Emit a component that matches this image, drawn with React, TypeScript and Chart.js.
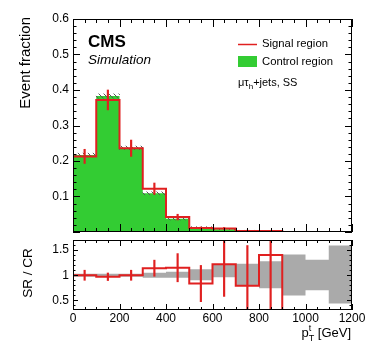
import React, { useEffect, useRef } from 'react';
import { Chart, registerables } from 'chart.js';

Chart.register(...registerables);

// ---------------- data ----------------
const binEdges = [0, 100, 200, 300, 400, 500, 600, 700, 800, 900, 1000, 1100, 1200];
const binCenters = [50, 150, 250, 350, 450, 550, 650, 750, 850, 950, 1050, 1150];

const controlRegion = [0.217, 0.383, 0.237, 0.109, 0.037, 0.013, 0.008, 0.0038, 0.002, 0.0012, 0.0008, 0.0005];
const controlRegionErr = [0.005, 0.006, 0.005, 0.004, 0.003, 0.002, 0.0015, 0.001, 0.001, 0.0005, 0.0005, 0.0005];
const signalRegion = [0.213, 0.372, 0.236, 0.122, 0.042, 0.011, 0.0098, 0.003, 0.0028, 0, 0, 0];
const signalRegionErr = [0.02, 0.028, 0.023, 0.016, 0.008, 0.003, 0.003, 0.002, 0.002, 0, 0, 0];

const ratioValues = [1.0, 0.97, 1.0, 1.14, 1.15, 0.835, 1.22, 0.79, 1.4, 0, 0, 0];
const ratioErr = [0.1, 0.075, 0.1, 0.16, 0.28, 0.36, 0.64, 0.8, 1.1, 0, 0, 0];
const crBandUp = [1.03, 1.03, 1.03, 1.05, 1.07, 1.12, 1.22, 1.23, 1.28, 1.41, 1.31, 1.59];
const crBandDown = [0.97, 0.97, 0.97, 0.95, 0.95, 0.9, 0.96, 0.79, 0.74, 0.6, 0.7, 0.44];

const xTicks = [0, 200, 400, 600, 800, 1000, 1200];
const topYTicks = [0.1, 0.2, 0.3, 0.4, 0.5, 0.6];
const ratioYTicks = [0.5, 1, 1.5];

const legendLabels = ['Signal region', 'Control region'];
const yTitleTop = 'Event fraction';
const yTitleRatio = 'SR / CR';

// ---------------- styles ----------------
const FONT = '"Liberation Sans", Arimo, Arial, sans-serif';
const GREEN = '#33cc33';
const RED = '#e02020';
const GREY = '#aaaaaa';
const X_MIN = 0;
const X_MAX = 1200;
const TOP_Y_MAX = 0.6;
const RATIO_MIN = 0.31;
const RATIO_MAX = 1.7;

function stepData(values: number[]) {
  return binEdges.map((x, i) => ({ x, y: values[Math.min(i, values.length - 1)] }));
}

function makeHatch(): any {
  const c = document.createElement('canvas');
  c.width = 5;
  c.height = 5;
  const g = c.getContext('2d');
  if (!g) return '#555';
  g.strokeStyle = '#555';
  g.lineWidth = 1;
  g.beginPath();
  g.moveTo(-1, -1);
  g.lineTo(6, 6);
  g.stroke();
  return g.createPattern(c, 'repeat') || '#555';
}

type AxCfg = {
  xMinor: number; xMajor: number; xMinorLen: number; xMajorLen: number;
  yMinor: number; yMajor: number; yMinorLen: number; yMajorLen: number;
};

function axesPlugin(id: string, cfg: AxCfg) {
  return {
    id,
    afterDatasetsDraw(chart: any) {
      const { ctx, chartArea: a, scales } = chart;
      const xs = scales.x;
      const ys = scales.y;
      const mult = (v: number, m: number) => Math.abs(v / m - Math.round(v / m)) < 1e-6;
      ctx.save();
      ctx.strokeStyle = '#000';
      ctx.lineWidth = 1;
      ctx.beginPath();
      for (let k = Math.ceil(xs.min / cfg.xMinor - 1e-9); k * cfg.xMinor <= xs.max + 1e-9; k++) {
        const v = k * cfg.xMinor;
        const px = Math.round(xs.getPixelForValue(v)) + 0.5;
        const len = mult(v, cfg.xMajor) ? cfg.xMajorLen : cfg.xMinorLen;
        ctx.moveTo(px, a.bottom);
        ctx.lineTo(px, a.bottom - len);
        ctx.moveTo(px, a.top);
        ctx.lineTo(px, a.top + len);
      }
      for (let k = Math.ceil(ys.min / cfg.yMinor - 1e-9); k * cfg.yMinor <= ys.max + 1e-9; k++) {
        const v = k * cfg.yMinor;
        const py = Math.round(ys.getPixelForValue(v)) + 0.5;
        const len = mult(v, cfg.yMajor) ? cfg.yMajorLen : cfg.yMinorLen;
        ctx.moveTo(a.left, py);
        ctx.lineTo(a.left + len, py);
        ctx.moveTo(a.right, py);
        ctx.lineTo(a.right - len, py);
      }
      ctx.stroke();
      ctx.strokeRect(a.left + 0.5, a.top + 0.5, a.right - a.left - 1, a.bottom - a.top - 1);
      ctx.restore();
    },
  };
}

const topTextPlugin = {
  id: 'topText',
  afterDraw(chart: any) {
    const ctx = chart.ctx;
    ctx.save();
    ctx.fillStyle = '#000';
    // y title
    ctx.save();
    ctx.translate(26, 17);
    ctx.rotate(-Math.PI / 2);
    ctx.font = `15px ${FONT}`;
    ctx.textAlign = 'right';
    ctx.textBaseline = 'middle';
    ctx.fillText(yTitleTop, 0, 0);
    ctx.restore();
    // CMS
    ctx.textAlign = 'left';
    ctx.textBaseline = 'alphabetic';
    ctx.font = `bold 17px ${FONT}`;
    ctx.fillText('CMS', 88, 47);
    ctx.font = `italic 13.5px ${FONT}`;
    ctx.fillText('Simulation', 88, 64);
    // legend
    ctx.strokeStyle = RED;
    ctx.lineWidth = 1.5;
    ctx.beginPath();
    ctx.moveTo(238, 44.5);
    ctx.lineTo(257, 44.5);
    ctx.stroke();
    ctx.fillStyle = GREEN;
    ctx.fillRect(238, 56, 19, 11);
    ctx.fillStyle = '#000';
    ctx.font = `11.3px ${FONT}`;
    ctx.textBaseline = 'middle';
    ctx.fillText(legendLabels[0], 262, 44);
    ctx.fillText(legendLabels[1], 262, 62);
    // channel label: mu tau_h + jets, SS
    let x = 238;
    const yb = 86;
    ctx.textBaseline = 'alphabetic';
    ctx.font = `11px ${FONT}`;
    ctx.fillText('\u03bc\u03c4', x, yb);
    x += ctx.measureText('\u03bc\u03c4').width;
    ctx.font = `8px ${FONT}`;
    ctx.fillText('h', x, yb + 2.5);
    x += ctx.measureText('h').width;
    ctx.font = `11px ${FONT}`;
    ctx.fillText('+jets, SS', x, yb);
    ctx.restore();
  },
};

const bottomTextPlugin = {
  id: 'bottomText',
  afterDraw(chart: any) {
    const ctx = chart.ctx;
    ctx.save();
    ctx.fillStyle = '#000';
    ctx.save();
    ctx.translate(28, 37);
    ctx.rotate(-Math.PI / 2);
    ctx.font = `13.5px ${FONT}`;
    ctx.textAlign = 'center';
    ctx.textBaseline = 'middle';
    ctx.fillText(yTitleRatio, 0, 0);
    ctx.restore();
    // x title p_T^t [GeV]
    ctx.textAlign = 'left';
    ctx.textBaseline = 'alphabetic';
    ctx.font = `13px ${FONT}`;
    const unit = ' [GeV]';
    const wUnit = ctx.measureText(unit).width;
    const wP = ctx.measureText('p').width;
    ctx.font = `9px ${FONT}`;
    const wS = Math.max(ctx.measureText('t').width, ctx.measureText('T').width);
    const base = 101;
    const x0 = 351 - wUnit - wS - wP;
    ctx.font = `13px ${FONT}`;
    ctx.fillText('p', x0, base);
    ctx.font = `9px ${FONT}`;
    ctx.fillText('t', x0 + wP, base - 6);
    ctx.fillText('T', x0 + wP, base + 4);
    ctx.font = `13px ${FONT}`;
    ctx.fillText(unit, x0 + wP + wS, base);
    ctx.restore();
  },
};

function zeroPad(s: any) {
  s.paddingTop = 0;
  s.paddingBottom = 0;
  s.paddingLeft = 0;
  s.paddingRight = 0;
}

const plainLabel = (v: any) => String(Math.round(Number(v) * 1000) / 1000);

export default function App() {
  const topRef = useRef<HTMLCanvasElement>(null);
  const botRef = useRef<HTMLCanvasElement>(null);

  useEffect(() => {
    const hatch = makeHatch();

    const top = new Chart(topRef.current as HTMLCanvasElement, {
      type: 'bar',
      data: {
        datasets: [
          {
            type: 'line',
            label: legendLabels[1],
            data: stepData(controlRegion),
            stepped: true,
            fill: 'origin',
            backgroundColor: GREEN,
            borderColor: 'transparent',
            borderWidth: 0,
            pointRadius: 0,
            order: 4,
          } as any,
          {
            type: 'bar',
            label: 'CR uncertainty',
            data: binCenters.map((x, i) => ({ x, y: [controlRegion[i] - controlRegionErr[i], controlRegion[i] + controlRegionErr[i]] })),
            backgroundColor: hatch,
            borderWidth: 0,
            grouped: false,
            barPercentage: 1,
            categoryPercentage: 1,
            order: 3,
          } as any,
          {
            type: 'line',
            label: legendLabels[0],
            data: stepData(signalRegion),
            stepped: true,
            fill: false,
            borderColor: RED,
            borderWidth: 2,
            pointRadius: 0,
            order: 2,
          } as any,
          {
            type: 'bar',
            label: 'SR stat',
            data: binCenters
              .map((x, i) => ({ x, y: [signalRegion[i] - signalRegionErr[i], signalRegion[i] + signalRegionErr[i]], e: signalRegionErr[i] }))
              .filter((d) => d.e > 0),
            backgroundColor: RED,
            borderWidth: 0,
            barThickness: 1.5,
            grouped: false,
            order: 1,
          } as any,
        ],
      },
      options: {
        animation: false,
        responsive: false,
        maintainAspectRatio: false,
        layout: { padding: { left: 0, right: 22, top: 19, bottom: 4 } },
        plugins: { legend: { display: false }, tooltip: { enabled: false } },
        scales: {
          x: { type: 'linear', min: X_MIN, max: X_MAX, offset: false, display: false },
          y: {
            type: 'linear',
            min: 0,
            max: TOP_Y_MAX,
            grid: { display: false, drawTicks: false },
            border: { display: false },
            ticks: { color: '#000', font: { family: FONT, size: 12 }, padding: 4, callback: plainLabel },
            afterBuildTicks: (s: any) => {
              s.ticks = topYTicks.map((v) => ({ value: v }));
            },
            afterFit: (s: any) => {
              s.width = 73;
              zeroPad(s);
            },
          },
        },
      } as any,
      plugins: [
        axesPlugin('topAxes', { xMinor: 50, xMajor: 200, xMinorLen: 4, xMajorLen: 8, yMinor: 0.02, yMajor: 0.1, yMinorLen: 3.5, yMajorLen: 7 }),
        topTextPlugin,
      ],
    });

    const bot = new Chart(botRef.current as HTMLCanvasElement, {
      type: 'bar',
      data: {
        datasets: [
          {
            type: 'line',
            label: 'CR band up',
            data: stepData(crBandUp),
            stepped: true,
            fill: '+1',
            backgroundColor: GREY,
            borderColor: 'transparent',
            borderWidth: 0,
            pointRadius: 0,
            order: 4,
          } as any,
          {
            type: 'line',
            label: 'CR band down',
            data: stepData(crBandDown),
            stepped: true,
            fill: false,
            borderColor: 'transparent',
            borderWidth: 0,
            pointRadius: 0,
            order: 5,
          } as any,
          {
            type: 'line',
            label: 'SR / CR',
            data: stepData(ratioValues.map((v) => Math.max(v, RATIO_MIN))),
            stepped: true,
            fill: false,
            borderColor: RED,
            borderWidth: 2,
            pointRadius: 0,
            order: 2,
          } as any,
          {
            type: 'bar',
            label: 'SR / CR err',
            data: binCenters
              .map((x, i) => ({ x, y: [ratioValues[i] - ratioErr[i], ratioValues[i] + ratioErr[i]], e: ratioErr[i] }))
              .filter((d) => d.e > 0),
            backgroundColor: RED,
            borderWidth: 0,
            barThickness: 1.5,
            grouped: false,
            order: 1,
          } as any,
        ],
      },
      options: {
        animation: false,
        responsive: false,
        maintainAspectRatio: false,
        layout: { padding: { left: 0, right: 22, top: 4, bottom: 0 } },
        plugins: { legend: { display: false }, tooltip: { enabled: false } },
        scales: {
          x: {
            type: 'linear',
            min: X_MIN,
            max: X_MAX,
            offset: false,
            grid: { display: false, drawTicks: false },
            border: { display: false },
            ticks: { color: '#000', font: { family: FONT, size: 12 }, padding: 1, maxRotation: 0, autoSkip: false, callback: plainLabel },
            afterBuildTicks: (s: any) => {
              s.ticks = xTicks.map((v) => ({ value: v }));
            },
            afterFit: (s: any) => {
              s.height = 41;
              zeroPad(s);
            },
          },
          y: {
            type: 'linear',
            min: RATIO_MIN,
            max: RATIO_MAX,
            grid: { display: false, drawTicks: false },
            border: { display: false },
            ticks: { color: '#000', font: { family: FONT, size: 12 }, padding: 4, callback: plainLabel },
            afterBuildTicks: (s: any) => {
              s.ticks = ratioYTicks.map((v) => ({ value: v }));
            },
            afterFit: (s: any) => {
              s.width = 73;
              zeroPad(s);
            },
          },
        },
      } as any,
      plugins: [
        axesPlugin('botAxes', { xMinor: 50, xMajor: 200, xMinorLen: 3, xMajorLen: 6, yMinor: 0.1, yMajor: 0.5, yMinorLen: 2.5, yMajorLen: 5 }),
        bottomTextPlugin,
      ],
    });

    return () => {
      top.destroy();
      bot.destroy();
    };
  }, []);

  return (
    <div style={{ position: 'absolute', left: 0, top: 0, width: 374, height: 351, background: '#fff' }}>
      <canvas ref={topRef} width={374} height={236} style={{ position: 'absolute', left: 0, top: 0, width: 374, height: 236 }} />
      <canvas ref={botRef} width={374} height={115} style={{ position: 'absolute', left: 0, top: 236, width: 374, height: 115 }} />
    </div>
  );
}
